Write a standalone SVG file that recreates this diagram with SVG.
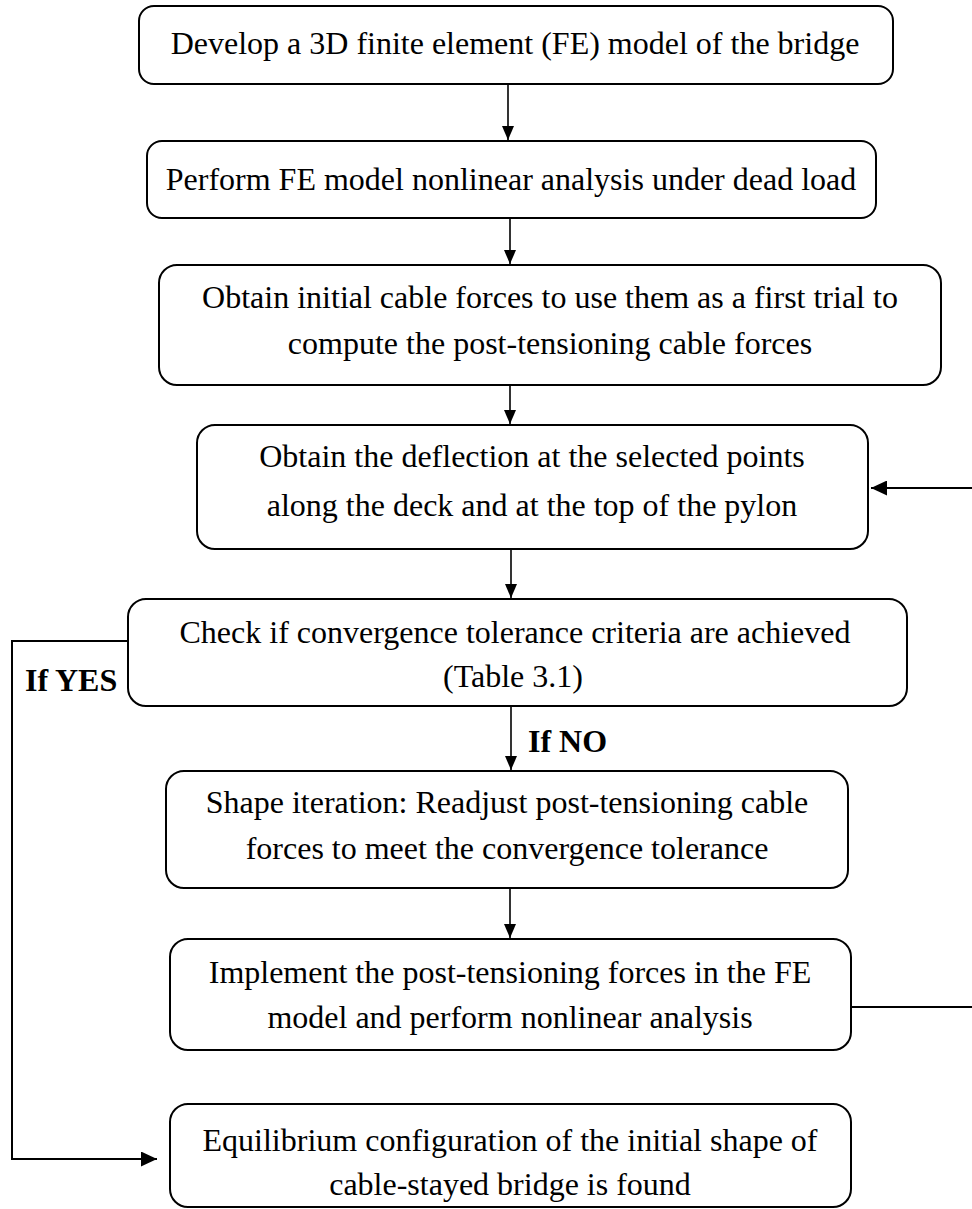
<svg xmlns="http://www.w3.org/2000/svg" width="972" height="1209" viewBox="0 0 972 1209">
<style>
.box{fill:#fff;stroke:#000;stroke-width:2}
.t{font-family:"Liberation Serif","Times New Roman",serif;font-size:32px;fill:#000;text-anchor:middle}
.b{font-family:"Liberation Serif","Times New Roman",serif;font-size:32px;font-weight:bold;fill:#000}
.ln{fill:none;stroke:#000;stroke-width:1.6}
.lw{fill:none;stroke:#000;stroke-width:2}
</style>
<defs>
<marker id="ah" viewBox="0 0 14 12" refX="14" refY="6" markerWidth="14" markerHeight="12" markerUnits="userSpaceOnUse" orient="auto">
<path d="M0,0 L14,6 L0,12 Z" fill="#000"/>
</marker>
<marker id="ahL" viewBox="0 0 16 15" refX="16" refY="7.5" markerWidth="16" markerHeight="15" markerUnits="userSpaceOnUse" orient="auto">
<path d="M0,0 L16,7.5 L0,15 Z" fill="#000"/>
</marker>
</defs>
<g id="connectors">
<line class="ln" x1="508" y1="85" x2="508" y2="140" marker-end="url(#ah)"/>
<line class="ln" x1="510" y1="219" x2="510" y2="264" marker-end="url(#ah)"/>
<line class="ln" x1="510" y1="386" x2="510" y2="424" marker-end="url(#ah)"/>
<line class="ln" x1="511" y1="550" x2="511" y2="598" marker-end="url(#ah)"/>
<line class="ln" x1="511" y1="707" x2="511" y2="770" marker-end="url(#ah)"/>
<line class="ln" x1="510" y1="889" x2="510" y2="938" marker-end="url(#ah)"/>
<line class="lw" x1="972" y1="488" x2="871" y2="488" marker-end="url(#ahL)"/>
<line class="lw" x1="852" y1="1007" x2="972" y2="1007"/>
<polyline class="lw" points="128,641 12,641 12,1159 157,1159" marker-end="url(#ahL)"/>
<text class="b" x="25" y="691">If YES</text>
<text class="b" x="528" y="752">If NO</text>
</g>
<g id="n1">
<rect class="box" x="139" y="6" width="754" height="78" rx="15"/>
<text class="t" x="515" y="54">Develop a 3D finite element (FE) model of the bridge</text>
</g>
<g id="n2">
<rect class="box" x="147" y="141" width="729" height="77" rx="15"/>
<text class="t" x="511" y="190">Perform FE model nonlinear analysis under dead load</text>
</g>
<g id="n3">
<rect class="box" x="159" y="265" width="782" height="120" rx="18"/>
<text class="t" x="550" y="308">Obtain initial cable forces to use them as a first trial to</text>
<text class="t" x="550" y="354">compute the post-tensioning cable forces</text>
</g>
<g id="n4">
<rect class="box" x="197" y="425" width="671" height="124" rx="18"/>
<text class="t" x="532" y="467">Obtain the deflection at the selected points</text>
<text class="t" x="532" y="516">along the deck and at the top of the pylon</text>
</g>
<g id="n5">
<rect class="box" x="128" y="599" width="779" height="107" rx="18"/>
<text class="t" x="515" y="643">Check if convergence tolerance criteria are achieved</text>
<text class="t" x="513" y="687">(Table 3.1)</text>
</g>
<g id="n6">
<rect class="box" x="166" y="771" width="682" height="117" rx="18"/>
<text class="t" x="507" y="813">Shape iteration: Readjust post-tensioning cable</text>
<text class="t" x="507" y="859">forces to meet the convergence tolerance</text>
</g>
<g id="n7">
<rect class="box" x="170" y="939" width="681" height="111" rx="18"/>
<text class="t" x="510" y="983">Implement the post-tensioning forces in the FE</text>
<text class="t" x="510" y="1028">model and perform nonlinear analysis</text>
</g>
<g id="n8">
<rect class="box" x="170" y="1104" width="681" height="103" rx="18"/>
<text class="t" x="510" y="1151">Equilibrium configuration of the initial shape of</text>
<text class="t" x="510" y="1195">cable-stayed bridge is found</text>
</g>
</svg>
